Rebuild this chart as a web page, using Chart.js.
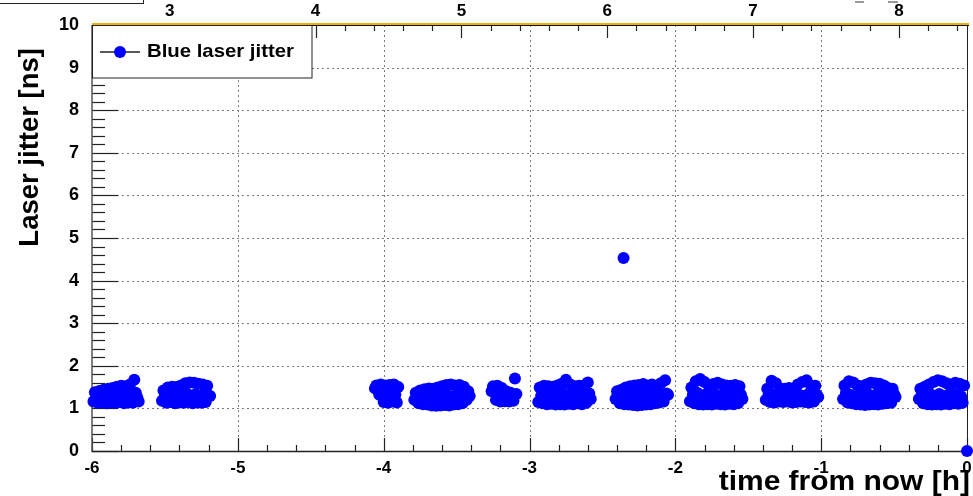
<!DOCTYPE html>
<html>
<head>
<meta charset="utf-8">
<script src="https://cdn.jsdelivr.net/npm/chart.js@4.4.0/dist/chart.umd.min.js"></script>
<style>
  html, body { margin: 0; padding: 0; background: #fff; }
  canvas { display: block; }
</style>
</head>
<body>
<canvas id="jitter-chart" width="973" height="496"></canvas>
<script>
// time from now [h], one entry per reading
const timeH = [
  // run 1
  -5.99,-5.98,-5.97,-5.96,-5.95,-5.94,-5.93,-5.92,-5.91,-5.90,-5.89,-5.88,-5.87,-5.86,-5.85,-5.84,
  -5.83,-5.82,-5.81,-5.80,-5.79,-5.78,-5.77,-5.76,-5.75,-5.74,-5.73,-5.72,-5.71,-5.70,-5.69,-5.68,
  // run 2
  -5.52,-5.51,-5.50,-5.49,-5.48,-5.47,-5.46,-5.45,-5.44,-5.43,-5.42,-5.41,-5.40,-5.39,-5.38,-5.37,-5.36,
  -5.35,-5.34,-5.33,-5.32,-5.31,-5.30,-5.29,-5.28,-5.27,-5.26,-5.25,-5.24,-5.23,-5.22,-5.21,-5.20,-5.19,
  // run 3
  -4.06,-4.05,-4.04,-4.03,-4.02,-4.01,-4.00,-3.99,-3.98,-3.97,-3.96,-3.95,-3.94,-3.93,-3.92,-3.91,-3.90,
  // run 4
  -3.79,-3.78,-3.77,-3.76,-3.75,-3.74,-3.73,-3.72,-3.71,-3.70,-3.69,-3.68,-3.67,-3.66,-3.65,-3.64,-3.63,
  -3.62,-3.61,-3.60,-3.59,-3.58,-3.57,-3.56,-3.55,-3.54,-3.53,-3.52,-3.51,-3.50,-3.49,-3.48,-3.47,-3.46,
  -3.45,-3.44,-3.43,-3.42,-3.41,
  // run 5
  -3.26,-3.25,-3.24,-3.23,-3.22,-3.21,-3.20,-3.19,-3.18,-3.17,-3.16,-3.15,-3.14,-3.13,-3.12,-3.11,-3.10,-3.09,
  // run 6
  -2.94,-2.93,-2.92,-2.91,-2.90,-2.89,-2.88,-2.87,-2.86,-2.85,-2.84,-2.83,-2.82,-2.81,-2.80,-2.79,-2.78,-2.77,
  -2.76,-2.75,-2.74,-2.73,-2.72,-2.71,-2.70,-2.69,-2.68,-2.67,-2.66,-2.65,-2.64,-2.63,-2.62,-2.61,-2.60,-2.59,-2.58,
  // run 7
  -2.41,-2.40,-2.39,-2.38,-2.37,-2.36,-2.35,-2.34,-2.33,-2.32,-2.31,-2.30,-2.29,-2.28,-2.27,-2.26,-2.25,-2.24,
  -2.23,-2.22,-2.21,-2.20,-2.19,-2.18,-2.17,-2.16,-2.15,-2.14,-2.13,-2.12,-2.11,-2.10,-2.09,-2.08,-2.07,-2.06,-2.05,
  // run 8
  -1.90,-1.89,-1.88,-1.87,-1.86,-1.85,-1.84,-1.83,-1.82,-1.81,-1.80,-1.79,-1.78,-1.77,-1.76,-1.75,-1.74,-1.73,
  -1.72,-1.71,-1.70,-1.69,-1.68,-1.67,-1.66,-1.65,-1.64,-1.63,-1.62,-1.61,-1.60,-1.59,-1.58,-1.57,-1.56,-1.55,-1.54,
  // run 9
  -1.38,-1.37,-1.36,-1.35,-1.34,-1.33,-1.32,-1.31,-1.30,-1.29,-1.28,-1.27,-1.26,-1.25,-1.24,-1.23,-1.22,-1.21,
  -1.20,-1.19,-1.18,-1.17,-1.16,-1.15,-1.14,-1.13,-1.12,-1.11,-1.10,-1.09,-1.08,-1.07,-1.06,-1.05,-1.04,-1.03,-1.02,
  // run 10
  -0.85,-0.84,-0.83,-0.82,-0.81,-0.80,-0.79,-0.78,-0.77,-0.76,-0.75,-0.74,-0.73,-0.72,-0.71,-0.70,-0.69,-0.68,
  -0.67,-0.66,-0.65,-0.64,-0.63,-0.62,-0.61,-0.60,-0.59,-0.58,-0.57,-0.56,-0.55,-0.54,-0.53,-0.52,-0.51,-0.50,-0.49,
  // run 11
  -0.33,-0.32,-0.31,-0.30,-0.29,-0.28,-0.27,-0.26,-0.25,-0.24,-0.23,-0.22,-0.21,-0.20,-0.19,-0.18,
  -0.17,-0.16,-0.15,-0.14,-0.13,-0.12,-0.11,-0.10,-0.09,-0.08,-0.07,-0.06,-0.05,-0.04,-0.03,-0.02,
  // stray readings
  -2.355, 0.0
];

// laser jitter [ns], same order as timeH
const jitterNs = [
  // run 1
  1.16,1.38,1.28, 1.13,1.41,1.25, 1.15,1.44,1.30, 1.12,1.46,1.27, 1.14,1.48,1.31, 1.13,1.51,1.29,
  1.15,1.53,1.33, 1.12,1.52,1.28, 1.14,1.56,1.30, 1.13,1.67,1.37, 1.26,1.16,
  // run 2
  1.18,1.42,1.30, 1.13,1.49,1.28, 1.15,1.51,1.34, 1.12,1.50,1.27, 1.14,1.54,1.32, 1.13,1.59,1.35,
  1.15,1.61,1.29, 1.12,1.60,1.33, 1.14,1.58,1.28, 1.13,1.56,1.34, 1.15,1.53,1.30, 1.29,
  // run 3
  1.47,1.54,1.42, 1.32,1.56,1.44, 1.15,1.54,1.30, 1.13,1.55,1.35, 1.16,1.56,1.32, 1.14,1.50,
  // run 4
  1.20,1.37,1.27, 1.12,1.42,1.27, 1.10,1.45,1.30, 1.09,1.47,1.26, 1.07,1.46,1.29, 1.06,1.49,1.31,
  1.07,1.52,1.27, 1.08,1.55,1.30, 1.07,1.56,1.28, 1.09,1.54,1.32, 1.10,1.55,1.29, 1.12,1.51,1.31,
  1.20,1.40,1.29,
  // run 5
  1.40,1.52,1.47, 1.20,1.53,1.35, 1.16,1.48,1.30, 1.17,1.40,1.27, 1.16,1.37,1.28, 1.18,1.70,1.34,
  // run 6
  1.15,1.49,1.30, 1.12,1.53,1.28, 1.10,1.52,1.31, 1.11,1.51,1.27, 1.09,1.54,1.30, 1.10,1.58,1.35,
  1.09,1.67,1.29, 1.11,1.56,1.33, 1.10,1.52,1.28, 1.12,1.53,1.30, 1.10,1.54,1.27, 1.13,1.61,1.35, 1.22,
  // run 7
  1.22,1.40,1.30, 1.12,1.44,1.27, 1.10,1.49,1.30, 1.09,1.52,1.28, 1.08,1.54,1.33, 1.07,1.55,1.29,
  1.08,1.57,1.34, 1.09,1.54,1.28, 1.10,1.56,1.32, 1.12,1.53,1.27, 1.14,1.59,1.33, 1.16,1.66,1.35, 1.32,
  // run 8
  1.17,1.49,1.32, 1.12,1.64,1.37, 1.10,1.69,1.28, 1.09,1.62,1.33, 1.10,1.54,1.29, 1.09,1.57,1.34,
  1.11,1.60,1.28, 1.10,1.56,1.32, 1.09,1.54,1.27, 1.11,1.53,1.33, 1.10,1.55,1.29, 1.12,1.52,1.32, 1.22,
  // run 9
  1.20,1.46,1.33, 1.15,1.65,1.32, 1.14,1.59,1.28, 1.16,1.47,1.33, 1.15,1.46,1.29, 1.16,1.48,1.34,
  1.14,1.47,1.28, 1.15,1.56,1.32, 1.16,1.62,1.29, 1.15,1.66,1.33, 1.14,1.54,1.28, 1.16,1.53,1.32, 1.27,
  // run 10
  1.22,1.54,1.37, 1.14,1.64,1.32, 1.12,1.61,1.28, 1.10,1.54,1.33, 1.09,1.52,1.29, 1.08,1.56,1.34,
  1.09,1.60,1.28, 1.10,1.59,1.33, 1.09,1.58,1.29, 1.11,1.54,1.32, 1.12,1.48,1.28, 1.13,1.46,1.33, 1.27,
  // run 11
  1.22,1.46,1.34, 1.12,1.51,1.28, 1.10,1.56,1.33, 1.09,1.62,1.29, 1.10,1.66,1.34, 1.09,1.64,1.28,
  1.11,1.59,1.32, 1.10,1.56,1.29, 1.12,1.60,1.33, 1.11,1.58,1.28, 1.13,1.54,
  // stray readings
  4.53, 0.0
];

// top axis: clock hour over the same span
const clockMin = 2.467;
const clockMax = 8.467;
const clockTicks = [3, 4, 5, 6, 7, 8];

const seriesLabel = "Blue laser jitter";
const xTitle = "time from now [h]";
const yTitle = "Laser jitter [ns]";

const FONT = "'Liberation Sans', Arial, Helvetica, sans-serif";
const BLUE = "#0000ff";

const points = timeH.map(function (t, i) {
  return { x: t, y: jitterNs[i] };
});

function hline(ctx, x1, x2, y) {
  ctx.beginPath();
  ctx.moveTo(x1, y);
  ctx.lineTo(x2, y);
  ctx.stroke();
}
function vline(ctx, x, y1, y2) {
  ctx.beginPath();
  ctx.moveTo(x, y1);
  ctx.lineTo(x, y2);
  ctx.stroke();
}

// ROOT style frame: dotted grid, inward ticks, yellow top axis
const rootFrame = {
  id: "rootFrame",
  beforeDatasetsDraw(chart) {
    const ctx = chart.ctx;
    const a = chart.chartArea;
    const xs = chart.scales.x;
    const ys = chart.scales.y;
    const x2 = chart.scales.x2;
    ctx.save();

    ctx.strokeStyle = "#7a7a7a";
    ctx.lineWidth = 1;
    ctx.setLineDash([2, 3]);
    xs.ticks.forEach(function (t) {
      if (t.value > xs.min && t.value < xs.max) {
        vline(ctx, Math.round(xs.getPixelForValue(t.value)) + 0.5, a.top, a.bottom);
      }
    });
    ys.ticks.forEach(function (t) {
      if (t.value > ys.min && t.value < ys.max) {
        hline(ctx, a.left, a.right, Math.round(ys.getPixelForValue(t.value)) + 0.5);
      }
    });
    ctx.setLineDash([]);

    // left axis ticks
    ctx.strokeStyle = "#222";
    ctx.lineWidth = 1.2;
    for (let k = 0; k <= 50; k++) {
      const py = Math.round(ys.getPixelForValue(k / 5)) + 0.5;
      hline(ctx, a.left, a.left + (k % 5 === 0 ? 26 : 13), py);
    }
    // bottom axis ticks
    for (let k = 0; k <= 30; k++) {
      const px = Math.round(xs.getPixelForValue(-6 + k / 5)) + 0.5;
      vline(ctx, px, a.bottom, a.bottom - (k % 5 === 0 ? 13 : 6));
    }
    // top axis ticks
    for (let k = 13; k <= 42; k++) {
      const v = k / 5;
      if (v < x2.min || v > x2.max) continue;
      const px = Math.round(x2.getPixelForValue(v)) + 0.5;
      vline(ctx, px, a.top, a.top + (k % 5 === 0 ? 13 : 6));
    }

    // frame
    ctx.strokeStyle = "#555";
    ctx.lineWidth = 1.5;
    vline(ctx, a.left, a.top, a.bottom + 1);
    ctx.strokeStyle = "#222";
    hline(ctx, a.left, a.right, a.bottom + 0.5);
    ctx.lineWidth = 1;
    vline(ctx, a.right + 0.5, a.top, a.bottom);
    ctx.fillStyle = "#e8b400";
    ctx.fillRect(a.left, a.top - 2, a.right - a.left + 2, 2);
    ctx.fillStyle = "#111";
    ctx.fillRect(a.left, a.top, a.right - a.left + 2, 1);

    ctx.restore();
  },
  afterDraw(chart) {
    const ctx = chart.ctx;
    const a = chart.chartArea;
    ctx.save();

    // legend box
    ctx.fillStyle = "#fff";
    ctx.fillRect(a.left, a.top + 1, 220, 52);
    ctx.strokeStyle = "#222";
    ctx.lineWidth = 1;
    ctx.strokeRect(a.left + 0.5, a.top + 0.5, 219.5, 52.5);
    ctx.lineWidth = 1.5;
    hline(ctx, a.left + 8, a.left + 48, a.top + 27);
    ctx.fillStyle = BLUE;
    ctx.beginPath();
    ctx.arc(a.left + 28, a.top + 27, 6, 0, Math.PI * 2);
    ctx.fill();
    ctx.fillStyle = "#000";
    ctx.font = "bold 19px " + FONT;
    ctx.textBaseline = "alphabetic";
    ctx.textAlign = "left";
    ctx.save();
    ctx.translate(a.left + 55, a.top + 32);
    ctx.scale(1.07, 1);
    ctx.fillText(seriesLabel, 0, 0);
    ctx.restore();

    // x title
    ctx.save();
    ctx.font = "bold 28px " + FONT;
    ctx.textAlign = "right";
    ctx.translate(970, 490);
    ctx.scale(1.07, 1);
    ctx.fillText(xTitle, 0, 0);
    ctx.restore();

    // y title
    ctx.save();
    ctx.font = "bold 27.5px " + FONT;
    ctx.textAlign = "right";
    ctx.textBaseline = "middle";
    ctx.translate(30, 48);
    ctx.rotate(-Math.PI / 2);
    ctx.fillText(yTitle, 0, 0);
    ctx.restore();

    // clipped title box in the corner
    ctx.strokeStyle = "#222";
    ctx.lineWidth = 1;
    hline(ctx, 0, 143, 3.5);
    vline(ctx, 143.5, 0, 4);
    ctx.fillStyle = "#999";
    ctx.fillRect(855, 1, 9, 2);
    ctx.fillRect(888, 1, 10, 2);

    ctx.restore();
  }
};

new Chart(document.getElementById("jitter-chart"), {
  type: "scatter",
  data: {
    datasets: [
      {
        label: seriesLabel,
        data: points,
        backgroundColor: BLUE,
        borderColor: BLUE,
        borderWidth: 0,
        pointRadius: 6,
        pointHoverRadius: 6,
        clip: 8
      }
    ]
  },
  options: {
    responsive: false,
    animation: false,
    events: [],
    layout: { padding: { left: 0, right: 1, top: 0, bottom: 0 } },
    plugins: {
      legend: { display: false },
      tooltip: { enabled: false }
    },
    scales: {
      x: {
        type: "linear",
        position: "bottom",
        min: -6,
        max: 0,
        grid: { display: false },
        border: { display: false },
        ticks: {
          stepSize: 1,
          includeBounds: false,
          maxRotation: 0,
          autoSkip: false,
          padding: -1,
          color: "#000",
          font: { family: FONT, size: 17, weight: "bold" }
        },
        afterFit: function (s) {
          s.height = 45;
          s.paddingLeft = 0;
          s.paddingRight = 0;
        }
      },
      x2: {
        type: "linear",
        position: "top",
        min: clockMin,
        max: clockMax,
        grid: { display: false },
        border: { display: false },
        ticks: {
          maxRotation: 0,
          autoSkip: false,
          padding: -5,
          color: "#000",
          font: { family: FONT, size: 17, weight: "bold" }
        },
        afterBuildTicks: function (s) {
          s.ticks = clockTicks.map(function (v) {
            return { value: v };
          });
        },
        afterFit: function (s) {
          s.height = 25;
          s.paddingLeft = 0;
          s.paddingRight = 0;
        }
      },
      y: {
        type: "linear",
        min: 0,
        max: 10,
        grid: { display: false },
        border: { display: false },
        ticks: {
          stepSize: 1,
          autoSkip: false,
          padding: 5,
          color: "#000",
          font: { family: FONT, size: 18, weight: "bold" }
        },
        afterFit: function (s) {
          s.width = 92;
        }
      }
    }
  },
  plugins: [rootFrame]
});
</script>
</body>
</html>
